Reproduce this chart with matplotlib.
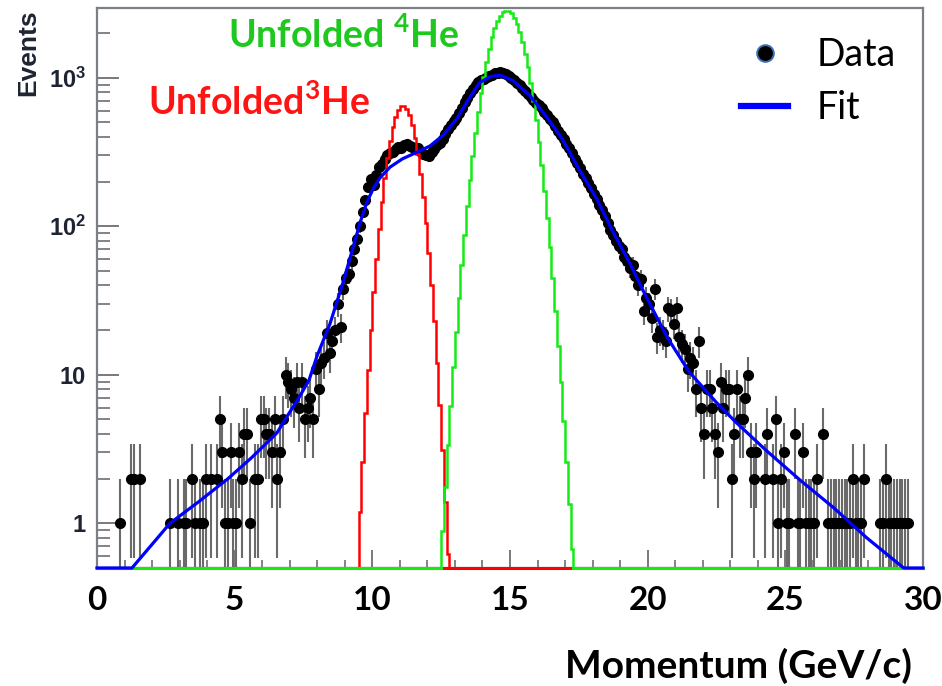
import numpy as np
import matplotlib
matplotlib.use("Agg")
import matplotlib.pyplot as plt
from matplotlib.lines import Line2D
from matplotlib.ticker import MultipleLocator, NullFormatter

# ----- SETTINGS -----
BIN_W = 0.1
X_MIN, X_MAX = 0.0, 30.0
Y_MIN, Y_MAX = 0.5, 2950

plt.rcParams['mathtext.fontset'] = 'custom'
plt.rcParams['mathtext.rm'] = 'Liberation Sans:bold'
plt.rcParams['mathtext.bf'] = 'Lato:bold'

# ----- DATA (events per 0.1 GeV/c bin, one row = 1 GeV/c) -----
data_counts = [
    0, 0, 0, 0, 0, 0, 0, 0, 1, 0,                                  # 0-1
    0, 0, 2, 2, 0, 2, 0, 0, 0, 0,                                  # 1-2
    0, 0, 0, 0, 0, 0, 1, 0, 0, 1,                                  # 2-3
    0, 1, 1, 0, 2, 1, 0, 1, 1, 2,                                  # 3-4
    0, 2, 0, 2, 5, 3, 1, 1, 3, 1,                                  # 4-5
    1, 3, 2, 4, 4, 1, 0, 2, 2, 5,                                  # 5-6
    5, 4, 4, 3, 5, 2, 3, 5, 10, 9,                                 # 6-7
    8, 7, 9, 6, 9, 5, 6, 7, 5, 11,                                 # 7-8
    8, 12, 13, 19, 14, 17, 20, 30, 21, 38,                         # 8-9
    45, 48, 58, 70, 82, 100, 124, 150, 185, 207,                   # 9-10
    190, 220, 250, 262, 282, 300, 310, 318, 330, 343,              # 10-11
    335, 350, 358, 345, 340, 330, 338, 315, 305, 300,              # 11-12
    297, 316, 330, 350, 365, 390, 420, 450, 480, 510,              # 12-13
    540, 580, 630, 690, 730, 790, 840, 890, 930, 960,              # 13-14
    985, 1010, 1030, 1050, 1070, 1085, 1090, 1080, 1060, 1035,     # 14-15
    1000, 960, 920, 890, 850, 810, 780, 740, 710, 680,             # 15-16
    660, 630, 590, 560, 530, 500, 470, 440, 410, 385,              # 16-17
    360, 335, 310, 285, 265, 245, 225, 210, 195, 180,              # 17-18
    165, 152, 140, 128, 118, 105, 95, 88, 80, 74,                  # 18-19
    70, 62, 58, 52, 55, 46, 40, 44, 27, 33,                        # 19-20
    30, 24, 38, 18, 20, 19, 17, 28, 27, 22,                        # 20-21
    28, 18, 16, 15, 11, 13, 12, 8, 17, 6,                          # 21-22
    4, 8, 8, 6, 4, 3, 9, 6, 8, 8,                                  # 22-23
    2, 4, 8, 5, 5, 7, 10, 3, 2, 3,                                 # 23-24
    0, 0, 2, 4, 0, 2, 5, 1, 2, 3,                                  # 24-25
    1, 1, 0, 4, 1, 1, 3, 1, 1, 1,                                  # 25-26
    1, 2, 0, 4, 0, 1, 1, 1, 1, 1,                                  # 26-27
    1, 1, 1, 1, 2, 1, 1, 1, 2, 0,                                  # 27-28
    0, 0, 0, 0, 1, 1, 2, 1, 1, 1,                                  # 28-29
    1, 1, 1, 1, 1, 0, 0, 0, 0, 0,                                  # 29-30
]

# fit curve
fit_x = [0.0, 1.27, 2.65, 3.7, 4.76, 5.6, 6.53, 7.0, 7.37, 7.7, 8.0, 8.46,
         8.94, 9.3, 9.55, 9.8, 10.05, 10.28, 10.64, 11.1, 11.62, 12.1, 12.57,
         13.07, 13.44, 13.9, 14.3, 14.64, 15.1, 15.73, 16.3, 16.9, 17.5,
         18.16, 18.75, 19.36, 19.83, 20.7, 21.5, 22.5, 23.2, 24.3, 25.54,
         26.74, 27.95, 29.3, 30.0]
fit_y = [0.5, 0.5, 1.0, 1.4, 2.0, 2.75, 4.05, 5.6, 7.2, 9.2, 13.5, 22,
         42, 72, 105, 145, 182, 212, 250, 285, 315, 348, 410,
         530, 690, 930, 1020, 1040, 960, 755, 553, 387, 243,
         152, 91, 56, 37, 18, 10.5, 6.5, 4.8, 3.1, 1.95,
         1.28, 0.8, 0.5, 0.5]

# unfolded 3He histogram, first bin starts at 9.5 GeV/c
he3_start = 9.5
he3_counts = [1.2, 2.6, 5.5, 10.8, 20, 36, 60, 96, 146, 211, 289, 376, 465,
              546, 608, 644, 647, 618, 560, 482, 394, 306, 226, 158, 105, 66,
              40, 23, 12, 6.3, 3.1, 1.4, 0.62]

# unfolded 4He histogram, first bin starts at 12.5 GeV/c
he4_start = 12.5
he4_counts = [0.89, 1.75, 3.35, 6.2, 11.2, 19.5, 33, 55, 87, 136, 205, 299,
              425, 586, 784, 1018, 1284, 1571, 1868, 2154, 2411, 2621, 2765,
              2831, 2814, 2716, 2544, 2313, 2042, 1749, 1455, 1175, 920, 700,
              517, 371, 258, 174, 114, 73, 45, 27, 15.7, 8.9, 4.9, 2.6, 1.34,
              0.67]

x_ticks = [0, 5, 10, 15, 20, 25, 30]
y_ticks = [1, 10, 100, 1000]
y_tick_labels = ['1', '10', r'$\mathrm{10^{2}}$', r'$\mathrm{10^{3}}$']

# ----- FIGURE -----
fig = plt.figure(figsize=(9.42, 6.86), dpi=100)
ax = fig.add_axes([97/942, 1 - 568/686, 826/942, 560/686])
ax.set_yscale('log')
ax.set_xlim(X_MIN, X_MAX)
ax.set_ylim(Y_MIN, Y_MAX)

# data points
counts = np.array(data_counts, dtype=float)
centers = X_MIN + BIN_W * (np.arange(len(counts)) + 0.5)
keep = counts > 0
ax.errorbar(centers[keep], counts[keep], yerr=np.sqrt(counts[keep]),
            fmt='o', ms=7, color='black', ecolor='#6a6a6a',
            elinewidth=1.5, capsize=0, zorder=3)

# unfolded histograms
he3_edges = he3_start + BIN_W * np.arange(len(he3_counts) + 1)
he4_edges = he4_start + BIN_W * np.arange(len(he4_counts) + 1)
ax.plot([X_MIN, X_MAX], [Y_MIN, Y_MIN], color='#ff0000', lw=2.2,
        clip_on=False, zorder=4)
ax.stairs(he3_counts, he3_edges, baseline=Y_MIN, color='#ff0000', lw=1.8,
          zorder=4)
ax.plot([X_MIN, he4_edges[0]], [Y_MIN, Y_MIN], color='#14eb14', lw=2.2,
        clip_on=False, zorder=5)
ax.plot([he4_edges[-1], X_MAX], [Y_MIN, Y_MIN], color='#14eb14', lw=2.2,
        clip_on=False, zorder=5)
ax.stairs(he4_counts, he4_edges, baseline=Y_MIN, color='#14eb14', lw=1.8,
          zorder=5)

# fit
ax.plot(fit_x, fit_y, color='#0000ff', lw=2.3, clip_on=False, zorder=6)

# ----- AXES STYLE -----
for s in ax.spines.values():
    s.set_color('#7b7f86')
    s.set_linewidth(1.6)

ax.set_xticks(x_ticks)
ax.xaxis.set_minor_locator(MultipleLocator(1))
ax.set_xticklabels([str(t) for t in x_ticks], fontfamily='Lato',
                   fontweight='bold', fontsize=24)
ax.tick_params(axis='x', which='major', direction='in', length=13, width=1.3,
               color='#6e6e6e', pad=13)
ax.tick_params(axis='x', which='minor', direction='in', length=6, width=1.2,
               color='#6e6e6e')

ax.set_yticks(y_ticks)
ax.set_yticklabels(y_tick_labels, fontfamily='Liberation Sans',
                   fontweight='bold', fontsize=17, color='#1f2433')
ax.yaxis.set_minor_formatter(NullFormatter())
ax.tick_params(axis='y', which='major', direction='in', length=16, width=1.3,
               color='#6e6e6e', pad=8)
ax.tick_params(axis='y', which='minor', direction='in', length=9, width=1.2,
               color='#6e6e6e')

fig.text(28/942, 1 - 9/686, 'Events', rotation=90, ha='center', va='top',
         fontfamily='Liberation Sans', fontweight='bold', fontsize=19,
         color='#1f2433')
fig.text(912/942, 1 - 666/686, 'Momentum (GeV/c)', ha='right', va='center',
         fontfamily='Lato', fontweight='bold', fontsize=28)

# labels for the unfolded curves
ax.text(0.159, 0.952, r'Unfolded $^{\mathbf{4}}$He', transform=ax.transAxes,
        ha='left', va='center', fontfamily='Lato', fontweight='bold',
        fontsize=27, color='#1ec81e')
ax.text(0.062, 0.832, r'Unfolded$^{\mathbf{3}}$He', transform=ax.transAxes,
        ha='left', va='center', fontfamily='Lato', fontweight='bold',
        fontsize=27, color='#ff1414')

# legend
handles = [Line2D([], [], marker='o', ls='none', color='black', ms=12,
                  markeredgecolor='#3d6fb3', markeredgewidth=1.4),
           Line2D([], [], color='#0000ff', lw=4.5)]
ax.legend(handles, ['Data', 'Fit'], loc='upper right',
          bbox_to_anchor=(0.985, 0.975), frameon=False,
          prop={'family': 'Lato', 'size': 27}, handlelength=1.25,
          handletextpad=0.75, labelspacing=0.45, borderaxespad=0)

fig.savefig('out.png', dpi=100, facecolor='white')
